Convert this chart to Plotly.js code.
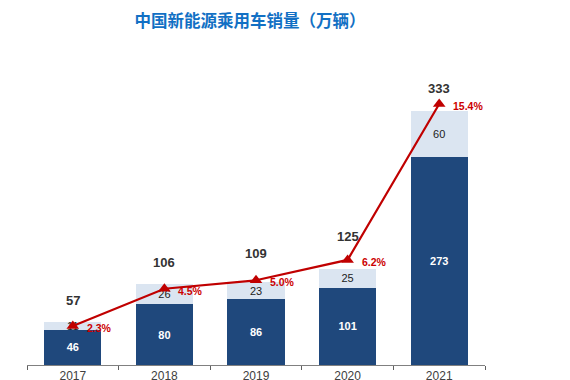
<!DOCTYPE html>
<html><head><meta charset="utf-8">
<script src="https://cdn.plot.ly/plotly-3.0.1.min.js"></script>
<style>html,body{margin:0;padding:0;background:#fff}#chart{width:570px;height:380px}</style>
</head><body><div id="chart"></div>
<script>
const years = ['2017','2018','2019','2020','2021'];
const baseSales = [46, 80, 86, 101, 273];
const extraSales = [11, 26, 23, 25, 60];
const totalSales = [57, 106, 109, 125, 333];
const penetration = [2.3, 4.5, 5.0, 6.2, 15.4];
const penetrationLabels = ['2.3%', '4.5%', '5.0%', '6.2%', '15.4%'];
const totalLabelShift = [21, 22, 28, 33, 23];

const FONT = 'Liberation Sans, Arial, sans-serif';

const traces = [
  {type:'bar', x:years, y:baseSales, marker:{color:'#1f487c'},
   text:baseSales.map(String), textposition:'inside', insidetextanchor:'middle', textangle:0,
   constraintext:'none', textfont:{family:FONT, size:11, color:'#ffffff', weight:'bold'},
   hoverinfo:'skip', showlegend:false},
  {type:'bar', x:years, y:extraSales, marker:{color:'#dbe5f1'},
   text:extraSales.map(String), textposition:'inside', insidetextanchor:'middle', textangle:0,
   constraintext:'none', textfont:{family:FONT, size:11, color:'#222222'},
   hoverinfo:'skip', showlegend:false},
  {type:'scatter', mode:'lines+markers', x:years, y:penetration, yaxis:'y2',
   line:{color:'#c00000', width:2.2},
   marker:{symbol:'triangle-up', size:11, color:'#c00000'},
   cliponaxis:false, hoverinfo:'skip', showlegend:false}
];

const annotations = [];
years.forEach((yr, i) => {
  annotations.push({x:i, y:totalSales[i], xref:'x', yref:'y', text:String(totalSales[i]),
    showarrow:false, yshift:totalLabelShift[i],
    font:{family:FONT, size:13, color:'#333333', weight:'bold'}});
  annotations.push({x:i, y:penetration[i], xref:'x', yref:'y2', text:penetrationLabels[i],
    showarrow:false, xanchor:'left', xshift:12, yshift:-2,
    font:{family:FONT, size:10.5, color:'#cc0000', weight:'bold'}});
});

const layout = {
  width:570, height:380,
  margin:{l:27, r:85, t:60, b:15},
  paper_bgcolor:'#ffffff', plot_bgcolor:'#ffffff',
  barmode:'stack', bargap:0.375,
  title:{text:'中国新能源乘用车销量（万辆）', x:250/570, xref:'container', xanchor:'center',
    y:1-21/380, yref:'container', yanchor:'middle',
    font:{family:'Noto Sans CJK SC, sans-serif', size:16.5, color:'#1270c4', weight:'bold'}},
  xaxis:{type:'category', range:[-0.5, 4.5], autorange:false, showline:true, linecolor:'#808080', linewidth:1,
    ticks:'outside', tickson:'boundaries', ticklen:4, tickcolor:'#606060',
    showgrid:false, zeroline:false,
    tickfont:{family:FONT, size:12, color:'#404040'}},
  yaxis:{range:[0,400], autorange:false, visible:false, showgrid:false, zeroline:false, fixedrange:true},
  yaxis2:{range:[0,18.0], autorange:false, overlaying:'y', visible:false, showgrid:false, zeroline:false},
  annotations:annotations,
  showlegend:false
};

Plotly.newPlot('chart', traces, layout, {staticPlot:true, displayModeBar:false});
</script></body></html>
